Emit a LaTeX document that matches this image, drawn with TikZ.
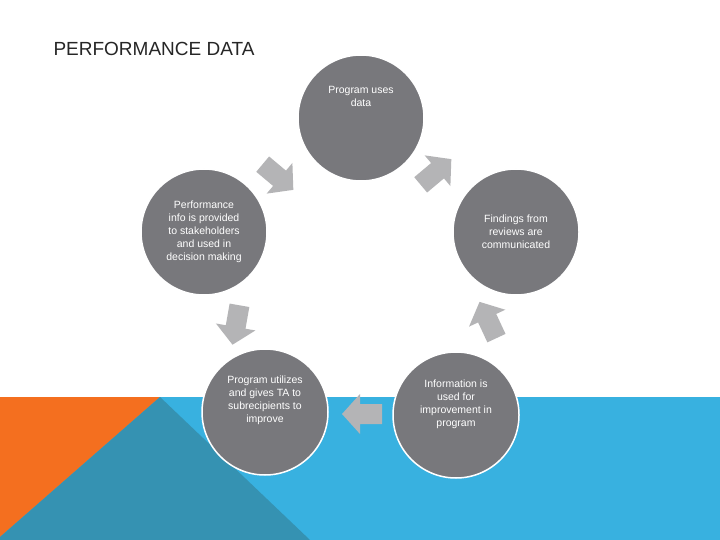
\documentclass[tikz,border=0pt]{standalone}
\usepackage{fontspec}
\setmainfont{Liberation Sans}
\begin{document}
\begin{tikzpicture}[x=1pt,y=-1pt,
  circ/.style={circle,fill=cgray,draw=white,line width=1.5pt,minimum size=126pt,inner sep=0pt,text=white,font=\fontsize{10.5}{13}\selectfont,align=center},
  barrow/.pic={\fill[agray] (-20,-10)--(2,-10)--(2,-20)--(20,0)--(2,20)--(2,10)--(-20,10)--cycle;}]
\definecolor{cgray}{HTML}{78787C}
\definecolor{agray}{HTML}{B4B4B6}
\definecolor{orng}{HTML}{F46F1F}
\definecolor{lblue}{HTML}{38B1E0}
\definecolor{teal}{HTML}{3592B2}
\useasboundingbox (0,0) rectangle (720,540);
\fill[white] (0,0) rectangle (720,540);
\fill[lblue] (0,397) rectangle (720,540);
\fill[orng] (0,397)--(160,397)--(0,537)--cycle;
\fill[teal] (160,397)--(310,540)--(0,540)--(0,537)--cycle;
\node[anchor=base west,font=\fontsize{19}{22}\selectfont,text=black!85] (title) at (50,56) {PERFORMANCE DATA};
\node[circ] (c1) at (361,118) {Program uses\\data\\[2.8em]};
\node[circ] (c2) at (516,232) {Findings from\\reviews are\\communicated};
\node[circ] (c3) at (456,415) {Information is\\used for\\improvement in\\program\\[1em]};
\node[circ] (c4) at (265,412) {Program utilizes\\and gives TA to\\subrecipients to\\improve\\[1.2em]};
\node[circ] (c5) at (204,232) {Performance\\info is provided\\to stakeholders\\and used in\\decision making};
\pic[rotate=-40] at (278,177) {barrow};
\pic[rotate=40] at (436,172) {barrow};
\pic[rotate=115] at (488,320) {barrow};
\pic[rotate=180] at (362,414) {barrow};
\pic[rotate=-100] at (236,325) {barrow};
\end{tikzpicture}
\end{document}
